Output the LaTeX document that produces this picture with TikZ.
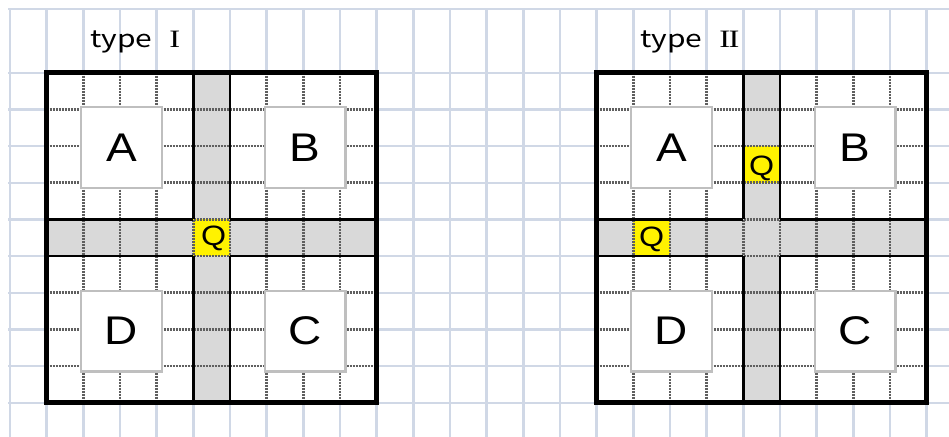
\documentclass[tikz,border=0pt]{standalone}
\usepackage{fontspec}
\setmainfont{Liberation Sans}
\newfontfamily\letterfont[FakeStretch=1.15]{Liberation Sans}
\newfontfamily\titlefont[FakeStretch=1.25]{Noto Sans CJK JP}
\newfontfamily\numfont[FakeStretch=1.3]{Liberation Serif}
\usetikzlibrary{positioning}
\definecolor{sheetgrid}{RGB}{208,216,230}
\definecolor{bandgray}{RGB}{217,217,217}
\definecolor{boxgray}{RGB}{191,191,191}
\definecolor{dotgray}{RGB}{95,95,95}

\begin{document}
\begin{tikzpicture}[x=36.667pt, y=-36.667pt,
    sheetline/.style={sheetgrid, line width=2.4pt},
    dotline/.style={dotgray, line width=2.8pt, dash pattern=on 2pt off 1pt},
    bandline/.style={black, line width=2.6pt},
    frameline/.style={black, line width=4.6pt},
    letterbox/.style={draw=boxgray, line width=2.6pt, fill=white,
      minimum size=80.7pt, inner sep=0pt, font=\letterfont\fontsize{40}{40}\selectfont},
    qcell/.style={fill=yellow, minimum size=36.667pt, inner sep=0pt},
    qtext/.style={inner sep=0pt, font=\letterfont\fontsize{28}{28}\selectfont},
    titletext/.style={inner sep=0pt, anchor=base west, font=\titlefont\fontsize{24}{24}\selectfont}]
    \useasboundingbox (-0.2727,-1.983) rectangle (25.609,9.908);

    % sheet grid
    \foreach \i in {0,...,25}
      \draw[sheetline] (\i,-1.737) -- (\i,9.95);
    \foreach \j in {0,...,9}
      \draw[sheetline] (-0.05,\j) -- (25.65,\j);
    \draw[sheetline] (-0.05,-1.737) -- (25.65,-1.737);

    % squares and bands
    \foreach \ox in {1,16} {
      \fill[white] (\ox,0) rectangle (\ox+9,9);
      \fill[bandgray] (\ox+4,0) rectangle (\ox+5,9);
      \fill[bandgray] (\ox,4) rectangle (\ox+9,5);
    }

    % Q cells
    \node[qcell] (qI) at (5.5,4.5) {};
    \node[qcell] (qIIa) at (20.5,2.5) {};
    \node[qcell] (qIIb) at (17.5,4.5) {};

    \foreach \ox/\nm/\num in {1/I/I,16/II/{I\kern-1.6ptI}} {
      % dotted cell borders
      \foreach \k in {1,...,8} {
        \draw[dotline] (\ox+\k,0) -- (\ox+\k,9);
        \draw[dotline] (\ox,\k) -- (\ox+9,\k);
      }
      % band edges
      \foreach \b in {4,5} {
        \draw[bandline] (\ox+\b,0) -- (\ox+\b,4) (\ox+\b,5) -- (\ox+\b,9);
        \draw[bandline] (\ox,\b) -- (\ox+4,\b) (\ox+5,\b) -- (\ox+9,\b);
      }
      % rooms
      \node[letterbox] (A\nm) at (\ox+2.04,2.04) {A};
      \node[letterbox] (B\nm) at (\ox+7.05,2.04) {B};
      \node[letterbox] (D\nm) at (\ox+2.04,7.05) {D};
      \node[letterbox] (C\nm) at (\ox+7.05,7.05) {C};
      \draw[frameline] (\ox,0) rectangle (\ox+9,9);
      \node[titletext] (title\nm) at (\ox+1.18,-0.674)
        {type\hspace{17pt}{\numfont\fontsize{25}{25}\selectfont\num}};
    }

    \node[qtext] at ([xshift=2pt, yshift=-1pt]qI.center) {Q};
    \node[qtext] at ([yshift=-4pt]qIIa.center) {Q};
    \node[qtext] at ([yshift=-2pt]qIIb.center) {Q};
\end{tikzpicture}
\end{document}
